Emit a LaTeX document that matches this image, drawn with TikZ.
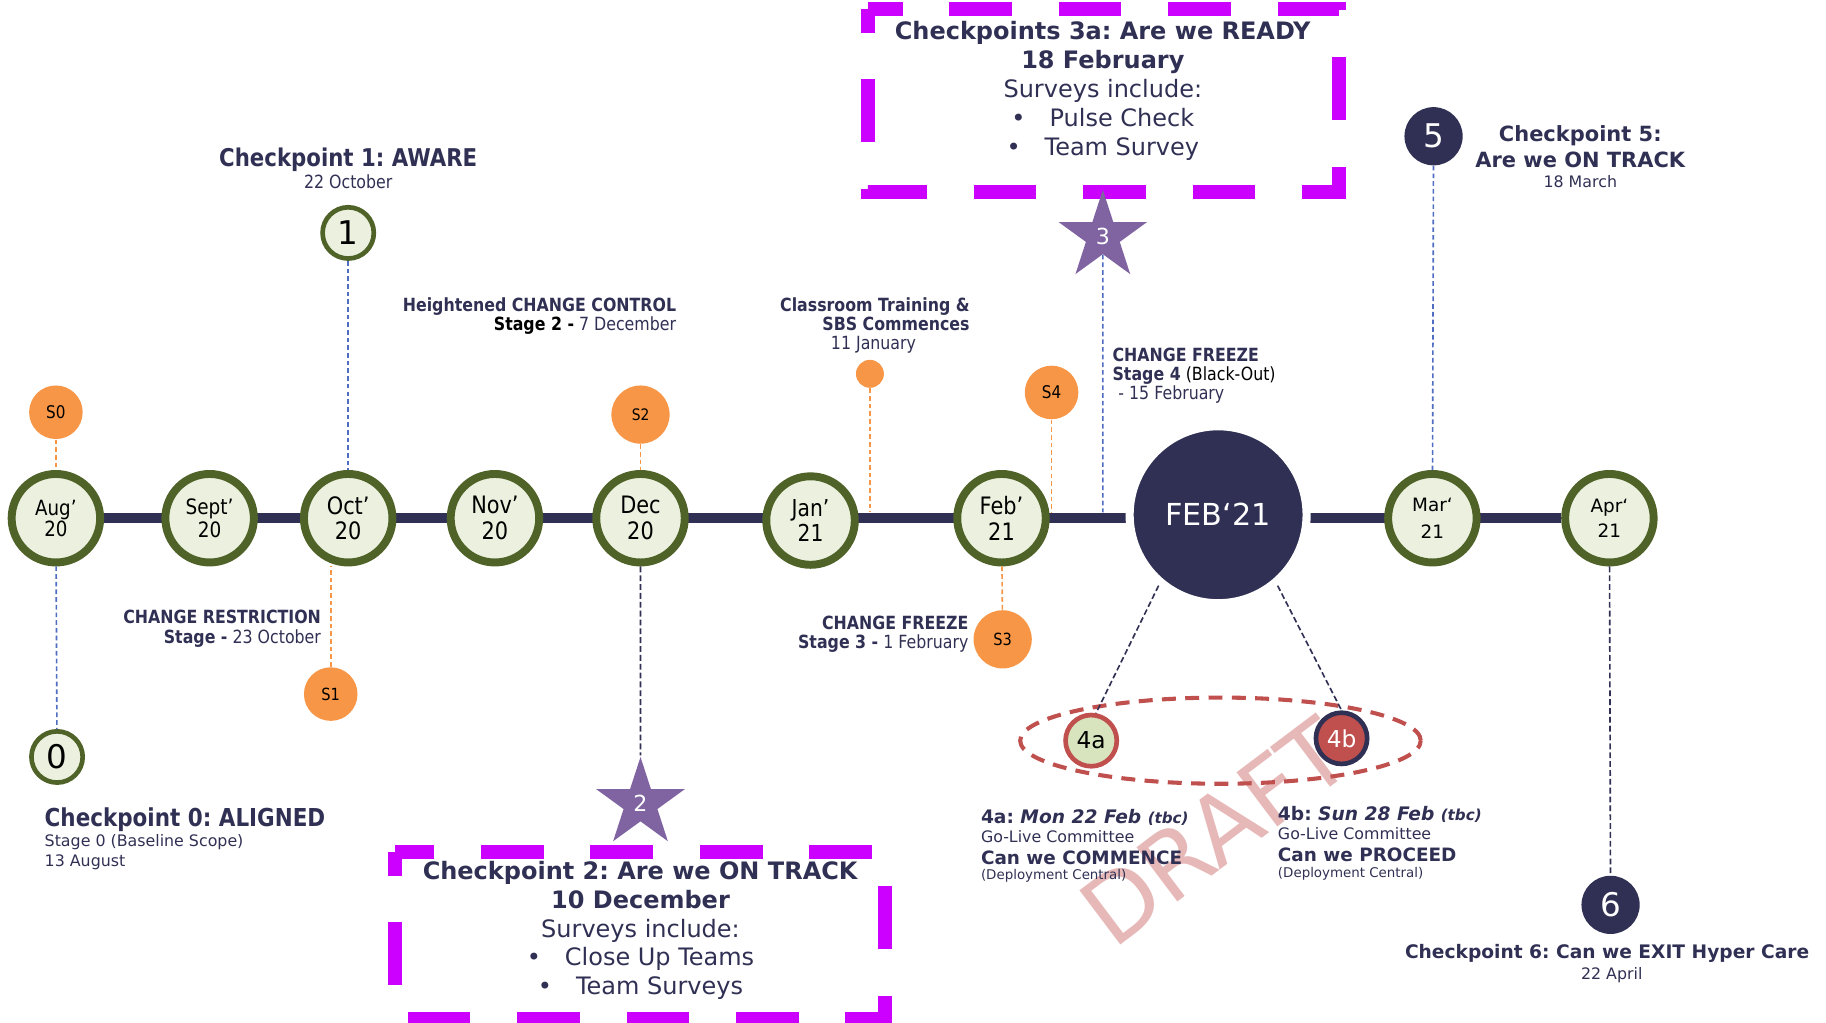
\documentclass[tikz,border=0pt]{standalone}
\usepackage{fontspec}
\setmainfont{DejaVu Sans}
\newfontfamily\tah[FakeStretch=0.87]{DejaVu Sans}
\usetikzlibrary{shapes.geometric,backgrounds,positioning}
\frenchspacing

\definecolor{navy}{HTML}{303054}
\definecolor{cpgreen}{HTML}{4F6228}
\definecolor{cppale}{HTML}{EBF1DE}
\definecolor{sorange}{HTML}{F79646}
\definecolor{spurple}{HTML}{8064A2}
\definecolor{boxpink}{HTML}{CC00FF}
\definecolor{gored}{HTML}{C0504D}
\definecolor{gogreen}{HTML}{D7E4BD}
\definecolor{dblue}{HTML}{4F6DC1}
\definecolor{draftpink}{HTML}{E6B9B8}

\newcommand{\fsz}[2]{\fontsize{#1}{#2}\selectfont}

\tikzset{
  bar/.style={line width=4.5pt,draw=navy},
  month/.style={circle,draw=cpgreen,fill=cppale,line width=3.4pt,minimum size=38pt,inner sep=0pt,align=center,font=\tah\fsz{10.3}{11}},
  bigmonth/.style={circle,fill=navy,draw=white,line width=3.5pt,minimum size=76pt,inner sep=0pt,text=white,font=\fsz{13}{15}},
  cpring/.style={circle,draw=cpgreen,fill=cppale,line width=2pt,minimum size=22pt,inner sep=0pt,font=\fsz{14}{14}},
  cpdark/.style={circle,fill=navy,minimum size=25pt,inner sep=0pt,text=white,font=\fsz{14}{14}},
  cpfour/.style={circle,line width=2pt,minimum size=22pt,inner sep=0pt,font=\fsz{10}{10}},
  cpstar/.style={star,star points=5,star point ratio=2.618,fill=spurple,minimum size=40pt,inner sep=0pt,text=white,font=\fsz{9.5}{10}},
  survey/.style={circle,fill=sorange,minimum size=23pt,inner sep=0pt,font=\tah\fsz{7.5}{8}},
  grp/.style={ellipse,draw=gored,line width=1.75pt,dash pattern=on 6pt off 4pt,minimum width=172pt,minimum height=37pt,inner sep=0pt},
  bluedash/.style={draw=dblue,line width=0.7pt,dash pattern=on 2pt off 1.3pt},
  orgdash/.style={draw=sorange,line width=0.7pt,dash pattern=on 2pt off 1.3pt},
  navydash/.style={draw=navy,line width=0.7pt,dash pattern=on 2.5pt off 1.3pt},
  svbox/.style={draw=boxpink,line width=6pt,dash pattern=on 27pt off 20pt,dash phase=17pt},
  boxtxt/.style={align=center,text=navy,inner sep=0pt,font=\fsz{10.3}{12.4}},
  lbl/.style={text=navy,inner sep=0pt,font=\tah\fsz{7.8}{8.3}},
  note/.style={text=navy,inner sep=0pt,font=\fsz{6.8}{8.5}}
}

\begin{document}
\begin{tikzpicture}[x=0.5pt,y=-0.5pt]
\useasboundingbox (0,0) rectangle (1568,878);

\node[rotate=37,text=draftpink,font=\fsz{40}{40}] (draft) at (1043,714) {DRAFT}; % watermark

% survey boxes
\draw[svbox] (745,8) rectangle (1150,165); % box 3a
\draw[svbox] (339,732) rectangle (760,875); % box 2
\node[boxtxt] (txt3a) at (947,78) {\textbf{Checkpoints 3a: Are we READY}\\\textbf{18 February}\\Surveys include:\\•\hspace{1em}Pulse Check\\•\hspace{1em}Team Survey};
\node[boxtxt] (txt2) at (550,799) {\textbf{Checkpoint 2: Are we ON TRACK}\\\textbf{10 December}\\Surveys include:\\•\hspace{1em}Close Up Teams\\•\hspace{1em}Team Surveys};

% months
\node[month,font=\tah\fsz{9}{9}] (aug) at (48,445) {Aug’\\20};
\node[month,font=\tah\fsz{9.1}{9.5}] (sep) at (180,445) {Sept’\\20};
\node[month] (oct) at (299,445) {Oct’\\20};
\node[month] (nov) at (425,445) {Nov’\\20};
\node[month] (dec) at (550,445) {Dec\\20};
\node[month,font=\tah\fsz{10}{11}] (jan) at (696,447) {Jan’\\21};
\node[month] (feb) at (860,445) {Feb’\\21};
\node[bigmonth] (feb21) at (1046,442) {FEB‘21};
\node[month,font=\fsz{7.9}{11.3}] (mar) at (1230,445) {Mar‘\\21};
\node[month,font=\fsz{7.9}{11}] (apr) at (1382,445) {Apr‘\\21};

\begin{scope}[on background layer]
\draw[bar] (aug) -- (apr); % timeline
\end{scope}
\coordinate (bartop) at (0,440);

% surveys
\node[survey] (s0) at (48,354) {S0};
\node[survey,font=\tah\fsz{7.2}{8}] (s1) at (284,596) {S1};
\node[survey,minimum size=25pt,font=\tah\fsz{6.8}{7}] (s2) at (550,356) {S2};
\node[survey,minimum size=12pt] (dot) at (747,321) {};
\node[survey] (s4) at (903,337) {S4};
\node[survey,minimum size=25pt,font=\tah\fsz{7.2}{8}] (s3) at (861,549) {S3};

% checkpoints
\node[cpring] (cp0) at (49,650) {0};
\node[cpring] (cp1) at (299,200) {1};
\node[cpdark] (cp5) at (1231,117) {5};
\node[cpdark] (cp6) at (1383,777) {6};
\node[cpstar] (star2) at (550,690) {2};
\node[cpstar] (star3) at (947,203) {3};
\node[grp] (grp4) at (1048,636) {};
\node[cpfour,fill=gogreen,draw=gored] (cp4a) at (937,636) {4a};
\node[cpfour,fill=gored,draw=navy,text=white] (cp4b) at (1152,634) {4b};

% dashed links
\draw[orgdash] (s0) -- (aug);
\draw[bluedash] (aug) -- (cp0);
\draw[bluedash] (cp1) -- (oct);
\draw[orgdash] (s1) -- (s1 |- oct.south);
\draw[orgdash] (s2) -- (dec);
\draw[navydash] (dec) -- (star2);
\draw[orgdash] (dot) -- (dot |- bartop);
\draw[orgdash] (s4) -- (s4 |- bartop);
\draw[bluedash] (star3) -- (star3 |- bartop);
\draw[orgdash] (feb) -- (s3);
\draw[bluedash] (cp5) -- (mar);
\draw[navydash] (feb21.230) -- (cp4a.80);
\draw[navydash] (feb21.-50) -- (cp4b.north);
\draw[navydash] (apr) -- (cp6);

% labels
\node[lbl,font=\tah\bfseries\fsz{10.5}{12}] (cp1t) at (299,137) {Checkpoint 1: AWARE};
\node[lbl] (cp1d) at (299,156) {22 October};
\node[lbl,align=right,anchor=east] (ctrl) at (581,271.5) {\textbf{Heightened CHANGE CONTROL}\\\textcolor{black}{\textbf{Stage 2 -}} 7 December};
\node[lbl,align=right,anchor=east] (train) at (833,279.5) {\textbf{Classroom Training \&}\\\textbf{SBS Commences}\\11 January\hspace*{23pt}};
\node[lbl,align=left,anchor=west] (frz4) at (955,322.5) {\textbf{CHANGE FREEZE}\\\textbf{Stage 4} \textcolor{black}{(Black-Out)}\\\hspace*{2.5pt}- 15 February};
\node[lbl,align=right,anchor=east] (restr) at (276,540) {\textbf{CHANGE RESTRICTION}\\\textbf{Stage -} 23 October};
\node[lbl,align=right,anchor=east] (frz3) at (832,544.5) {\textbf{CHANGE FREEZE}\\\textbf{Stage 3 -} 1 February};
\node[lbl,font=\tah\bfseries\fsz{10.6}{12},anchor=west] (cp0t) at (38,704) {Checkpoint 0: ALIGNED};
\node[note,align=left,anchor=west] (cp0d) at (38,731.5) {Stage 0 (Baseline Scope)\\13 August};
\node[note,align=center,font=\bfseries\fsz{9}{11}] (cp5t) at (1357,126) {Checkpoint 5:\\Are we ON TRACK};
\node[note] (cp5d) at (1357,156) {18 March};
\node[note,font=\bfseries\fsz{8}{9}] (cp6t) at (1380,819) {Checkpoint 6: Can we EXIT Hyper Care};
\node[note] (cp6d) at (1384,837) {22 April};
\node[note,font=\bfseries\fsz{8}{9},anchor=west] (l4a) at (842,702) {4a: \textit{Mon 22 Feb {\fsz{6.5}{7}(tbc)}}};
\node[note,anchor=west] (l4a1) at (842,718) {Go-Live Committee};
\node[note,font=\bfseries\fsz{7.9}{9},anchor=west] (l4a2) at (842,737) {Can we COMMENCE};
\node[note,font=\fsz{5.75}{7},anchor=west] (l4a3) at (842,752) {(Deployment Central)};
\node[note,font=\bfseries\fsz{8}{9},anchor=west] (l4b) at (1097,699) {4b: \textit{Sun 28 Feb {\fsz{6.5}{7}(tbc)}}};
\node[note,anchor=west] (l4b1) at (1097,716) {Go-Live Committee};
\node[note,font=\bfseries\fsz{7.9}{9},anchor=west] (l4b2) at (1097,734) {Can we PROCEED};
\node[note,font=\fsz{5.75}{7},anchor=west] (l4b3) at (1097,750) {(Deployment Central)};
\end{tikzpicture}
\end{document}
